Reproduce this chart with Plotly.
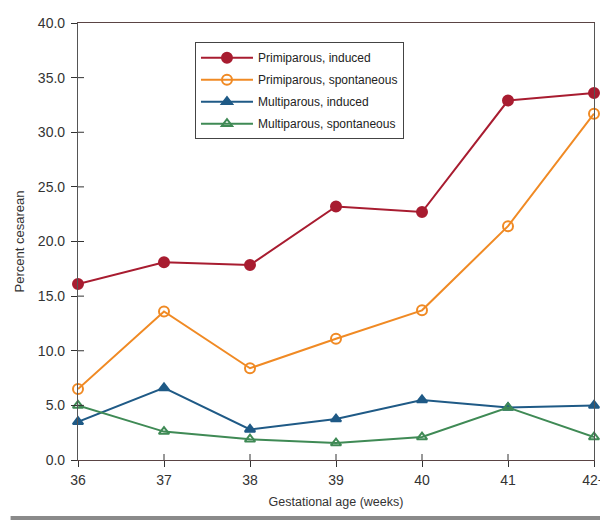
import plotly.graph_objects as go

weeks = ["36", "37", "38", "39", "40", "41", "42+"]
primi_induced = [16.1, 18.1, 17.85, 23.2, 22.7, 32.9, 33.6]
primi_spont = [6.5, 13.6, 8.4, 11.1, 13.7, 21.4, 31.7]
multi_induced = [3.5, 6.6, 2.8, 3.75, 5.5, 4.8, 5.0]
multi_spont = [5.0, 2.6, 1.9, 1.55, 2.1, 4.8, 2.1]
y_ticks = [0, 5, 10, 15, 20, 25, 30, 35, 40]

series = [
    ("Primiparous, induced", primi_induced, "#a81c30", "circle"),
    ("Primiparous, spontaneous", primi_spont, "#f08a24", "circle-open"),
    ("Multiparous, induced", multi_induced, "#1f5a86", "triangle-up"),
    ("Multiparous, spontaneous", multi_spont, "#3f8a55", "triangle-up-open"),
]

W, H = 600, 512
ML, MR, MT, MB = 70, 14, 15, 60
PW, PH = W - ML - MR, H - MT - MB
TICK = 6

fig = go.Figure()
for i, (name, vals, color, sym) in enumerate(series):
    fig.add_trace(go.Scatter(
        x=list(range(len(weeks))), y=vals, name=name, mode="lines+markers",
        legendgroup=f"g{i}",
        line=dict(color=color, width=2),
        marker=dict(symbol=sym, size=10 if "circle" in sym else 9, color=color,
                    line=dict(color=color, width=2)),
        cliponaxis=False,
    ))

font = "Liberation Sans, Arial, sans-serif"
fig.update_layout(
    width=W, height=H,
    margin=dict(l=ML, r=MR, t=MT, b=MB, autoexpand=False),
    paper_bgcolor="white", plot_bgcolor="white",
    font=dict(family=font, size=13, color="#333"),
    showlegend=True,
    legend=dict(x=0.2267, y=0.956, xanchor="left", yanchor="top",
                bordercolor="#444", borderwidth=1, bgcolor="white",
                font=dict(size=12, color="#222"), itemwidth=52,
                traceorder="grouped", tracegroupgap=3),
    xaxis=dict(range=[0, 6], tickmode="array", tickvals=list(range(len(weeks))),
               ticktext=weeks, showgrid=False, zeroline=False, automargin=False,
               showline=True, linecolor="#5a4444", linewidth=1.2,
               ticks="outside", ticklen=TICK, tickcolor="#333", mirror=True,
               tickfont=dict(size=14), ticklabelstandoff=1,
               ticklabeloverflow="allow",
               title=dict(text="Gestational age (weeks)", standoff=10,
                          font=dict(size=12.5))),
    yaxis=dict(range=[0, 40], tickmode="array", tickvals=y_ticks,
               tickformat=".1f", showgrid=False, zeroline=False, automargin=False,
               showline=True, linecolor="#555", linewidth=1.2,
               ticks="outside", ticklen=TICK, tickcolor="#333", mirror=True,
               tickfont=dict(size=14), ticklabelstandoff=3,
               ticklabeloverflow="allow",
               title=dict(text="Percent cesarean", standoff=10,
                          font=dict(size=13))),
)
# inner halves of the crossing tick marks
for v in range(1, len(weeks) - 1):
    fig.add_shape(type="line", xref="x", yref="paper", x0=v, x1=v,
                  y0=0, y1=TICK / PH, line=dict(color="#333", width=1))
for v in y_ticks[1:-1]:
    fig.add_shape(type="line", xref="paper", yref="y", x0=0, x1=TICK / PW,
                  y0=v, y1=v, line=dict(color="#333", width=1))
# grey strip along the bottom edge of the page
fig.add_shape(type="rect", xref="paper", yref="paper", x0=-ML / PW + 0.005, x1=1 + MR / PW,
              y0=-(MB) / PH, y1=-(MB - 4) / PH, fillcolor="#8a8a8a", line=dict(width=0))
fig.write_html("out.html")
